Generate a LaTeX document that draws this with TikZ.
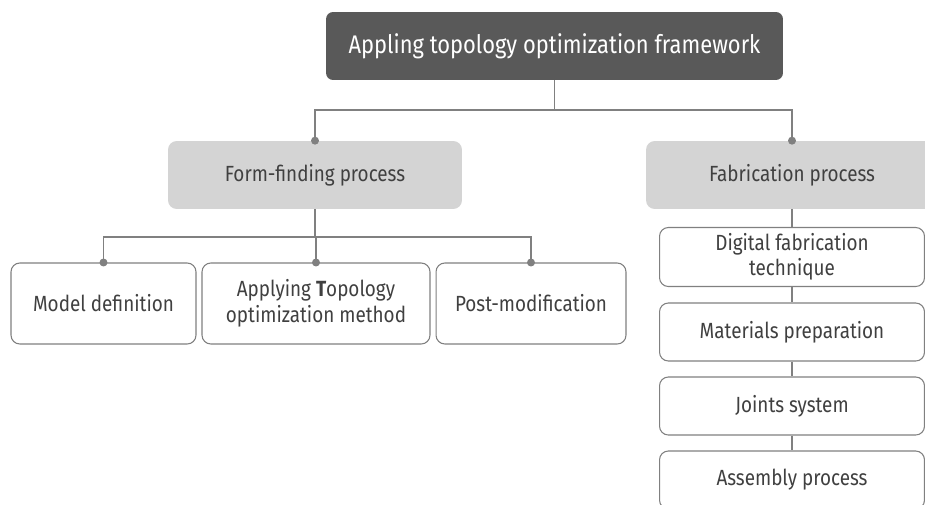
\documentclass[tikz,border=0pt]{standalone}
\usepackage{fontspec}
\setmainfont{Fira Sans}[FakeStretch=0.86]
\usepackage{tikz}
\usepackage{xcolor}
\definecolor{rootgray}{HTML}{595959}
\definecolor{stagegray}{HTML}{D4D4D4}
\definecolor{wiregray}{HTML}{808080}
\definecolor{inkgray}{HTML}{404040}
\tikzset{%
  rootbox/.style={draw=none, fill=rootgray, text=white, rounded corners=4pt,
    minimum width=9.14cm, minimum height=1.36cm, font=\fontsize{14.5}{17}\selectfont},
  stagebox/.style={draw=none, fill=stagegray, text=inkgray, rounded corners=5pt,
    minimum height=1.36cm, font=\fontsize{12.5}{14}\selectfont},
  taskbox/.style={draw=wiregray, line width=0.6pt, fill=white, text=inkgray, rounded corners=5pt,
    align=center, font=\fontsize{12.5}{14.5}\selectfont},
  wire/.style={wiregray, line width=0.7pt},
  knob/.style={circle, fill=wiregray, inner sep=0pt, minimum size=0.16cm}
}

\begin{document}
\begin{tikzpicture}[x=0.02cm,y=-0.02cm]
\clip (0,0) rectangle (925,504);
\fill[white] (0,0) rectangle (925,504);
% main node
\node[rootbox] (frame) at (554.5,46) {Appling topology optimization framework};
% the two processes
\node[stagebox, minimum width=5.88cm] (form) at (315,175) {Form-finding process};
\node[stagebox, minimum width=5.84cm] (fab) at (792,175) {Fabrication process};
% form-finding steps
\node[taskbox, minimum width=3.7cm, minimum height=1.62cm] (model) at (103.5,303.5) {Model definition};
\node[taskbox, minimum width=4.56cm, minimum height=1.62cm] (topo) at (316,303.5) {Applying \textbf{T}opology\\optimization method};
\node[taskbox, minimum width=3.8cm, minimum height=1.62cm] (post) at (531,303.5) {Post-modification};
% fabrication steps
\node[taskbox, minimum width=5.3cm, minimum height=1.16cm] (digi) at (792,257) {Digital fabrication\\technique};
\node[taskbox, minimum width=5.3cm, minimum height=1.16cm] (mat) at (792,332) {Materials preparation};
\node[taskbox, minimum width=5.3cm, minimum height=1.16cm] (joint) at (792,406) {Joints system};
\node[taskbox, minimum width=5.3cm, minimum height=1.16cm] (asm) at (792,480) {Assembly process};
% connectors
\coordinate (split1) at (554.5,110);
\coordinate (split2) at (315,237);
\draw[wire] (frame.south) -- (split1);
\draw[wire] (split1) -| (form.north);
\draw[wire] (split1) -| (fab.north);
\draw[wire] (form.south) -- (split2);
\draw[wire] (split2) -| (model.north);
\draw[wire] (split2) -| (topo.north);
\draw[wire] (split2) -| (post.north);
\draw[wire] (fab.south) -- (digi.north);
\draw[wire] (digi.south) -- (mat.north);
\draw[wire] (mat.south) -- (joint.north);
\draw[wire] (joint.south) -- (asm.north);
\foreach \n in {form,fab,model,topo,post}
  \node[knob] at (\n.north) {};
\end{tikzpicture}
\end{document}
